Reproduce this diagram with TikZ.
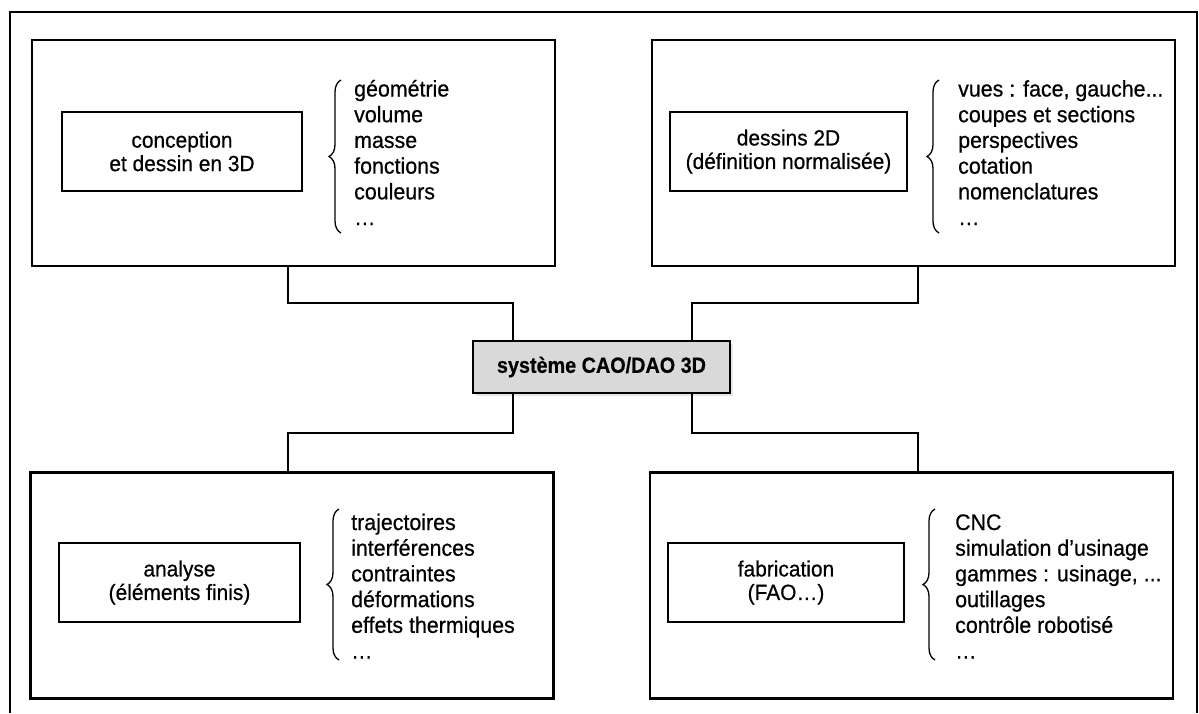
\documentclass[tikz,border=0pt]{standalone}
\usepackage{fontspec}
\setmainfont{Liberation Sans}[FakeStretch=0.95,FakeBold=0.6]
\newfontfamily\sysfont{Liberation Sans Bold}[FakeStretch=0.9,FakeBold=0.4]
\usetikzlibrary{decorations.pathreplacing,shadows}
\begin{document}
\begin{tikzpicture}[x=1pt,y=-1pt,
  bigbox/.style={draw, line width=2.3pt, minimum width=523pt, minimum height=226pt, inner sep=0pt},
  smallbox/.style={draw, line width=2pt, minimum height=79pt, inner sep=0pt, align=center, font=\fontsize{22}{23.5}\selectfont},
  listtxt/.style={anchor=base west, align=left, inner sep=0pt, font=\fontsize{22.5}{25.7}\selectfont},
  conn/.style={line width=2pt},
  bracel/.style={decorate, decoration={brace, amplitude=12pt}, line width=1.3pt},
  sysbox/.style={draw, line width=2pt, fill=gray!30, minimum width=257pt, minimum height=52pt, inner sep=0pt,
    font=\fontsize{22}{24}\sysfont,
    drop shadow={shadow xshift=3pt, shadow yshift=-3pt, fill=gray!40}}]
\useasboundingbox (0,0) rectangle (1199,713);
\draw[line width=1.6pt] (10,713) -- (10,12) -- (1197,12) -- (1197,713);

% outer boxes
\node[bigbox] (tl) at (293.5,153) {};
\node[bigbox] (tr) at (913.5,153) {};
\node[bigbox] (bl) at (292,585.5) {};
\node[bigbox] (br) at (911.5,585.5) {};

% inner boxes
\node[smallbox, minimum width=240pt] (tli) at (182,151.5) {conception\\et dessin en 3D};
\node[smallbox, minimum width=237pt] (tri) at (788.5,151.5) {dessins 2D\\(définition normalisée)};
\node[smallbox, minimum width=241pt] (bli) at (179.5,582.5) {analyse\\(éléments finis)};
\node[smallbox, minimum width=236pt] (bri) at (786,582.5) {fabrication\\(FAO…)};

% lists
\node[listtxt] (tll) at (354,225) {géométrie\\volume\\masse\\fonctions\\couleurs\\…};
\node[listtxt] (trl) at (958,225) {vues : face, gauche...\\coupes et sections\\perspectives\\cotation\\nomenclatures\\…};
\node[listtxt] (bll) at (351,658.5) {trajectoires\\interférences\\contraintes\\déformations\\effets thermiques\\…};
\node[listtxt] (brl) at (955,658.5) {CNC\\simulation d’usinage\\gammes : usinage, ...\\outillages\\contrôle robotisé\\…};

% braces
\coordinate (b1a) at (341,233); \coordinate (b1b) at (341,80);
\coordinate (b2a) at (939,233); \coordinate (b2b) at (939,80);
\coordinate (b3a) at (339,660); \coordinate (b3b) at (339,509);
\coordinate (b4a) at (935,660); \coordinate (b4b) at (935,509);
\draw[bracel] (b1a) -- (b1b);
\draw[bracel] (b2a) -- (b2b);
\draw[bracel] (b3a) -- (b3b);
\draw[bracel] (b4a) -- (b4b);

% central system
\node[sysbox] (sys) at (601.5,367) {système CAO/DAO 3D};

% connectors
\coordinate (k1) at (288,303); \coordinate (k2) at (513,303);
\coordinate (k3) at (918,303); \coordinate (k4) at (692,303);
\coordinate (k5) at (513,433); \coordinate (k6) at (288,433);
\coordinate (k7) at (692,433); \coordinate (k8) at (918,433);
\draw[conn] (tl.south -| k1) -- (k1) -- (k2) -- (sys.north -| k2);
\draw[conn] (tr.south -| k3) -- (k3) -- (k4) -- (sys.north -| k4);
\draw[conn] (sys.south -| k5) -- (k5) -- (k6) -- (bl.north -| k6);
\draw[conn] (sys.south -| k7) -- (k7) -- (k8) -- (br.north -| k8);
\end{tikzpicture}
\end{document}
